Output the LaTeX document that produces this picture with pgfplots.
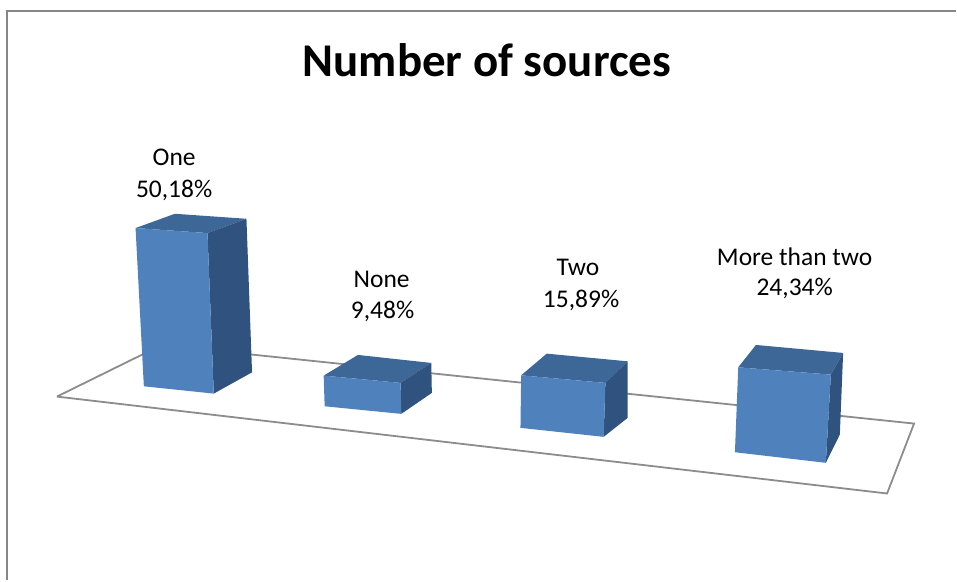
\documentclass[border=0pt]{standalone}
\usepackage{pgfplots}
\pgfplotsset{compat=1.18}
\usepackage{fontspec}
\setmainfont{Carlito}
\definecolor{frontc}{HTML}{4F81BD}
\definecolor{topc}{HTML}{3D6797}
\definecolor{sidec}{HTML}{30527F}
\definecolor{floorc}{HTML}{8C8C8C}
\definecolor{borderc}{HTML}{868686}
\begin{document}
\begin{tikzpicture}
\begin{axis}[
  width=957pt, height=581pt, scale only axis,
  xmin=0, xmax=957, ymin=0, ymax=581, y dir=reverse,
  hide axis, clip=false,
]
% invisible frame to fix the picture's extent
\addplot[draw=none] coordinates {(0,0) (957,581)};
% chart border (left and top visible)
\addplot[borderc, line width=2pt] coordinates {(6.7,581) (6.7,11) (957,11)};
% floor
\addplot[floorc, line width=1.8pt, line join=miter] coordinates {(57,397) (161.5,345.5) (915,424) (888,494) (57,397)};
% Bar 1: One 50,18%
\addplot[fill=topc, draw=none] coordinates {(135.7,228.3) (175,214) (246.7,219) (207.7,233.3) (135.7,228.3)};
\addplot[fill=sidec, draw=none] coordinates {(207.7,233.3) (246.7,219) (252.3,372.7) (214,394) (207.7,233.3)};
\addplot[fill=frontc, draw=none] coordinates {(135.7,228.3) (207.7,233.3) (214,394) (144,386.7) (135.7,228.3)};
% Bar 2: None 9,48%
\addplot[fill=topc, draw=none] coordinates {(324,376) (358.3,355.3) (431.7,363.3) (401,383.3) (324,376)};
\addplot[fill=sidec, draw=none] coordinates {(401,383.3) (431.7,363.3) (432.3,393.3) (401.7,414.3) (401,383.3)};
\addplot[fill=frontc, draw=none] coordinates {(324,376) (401,383.3) (401.7,414.3) (325,406.7) (324,376)};
% Bar 3: Two 15,89%
\addplot[fill=topc, draw=none] coordinates {(521.7,375.7) (547.3,354) (628.3,361.7) (606,383.3) (521.7,375.7)};
\addplot[fill=sidec, draw=none] coordinates {(606,383.3) (628.3,361.7) (628.3,418.3) (604.3,437.3) (606,383.3)};
\addplot[fill=frontc, draw=none] coordinates {(521.7,375.7) (606,383.3) (604.3,437.3) (521,428.3) (521.7,375.7)};
% Bar 4: More than two 24,34%
\addplot[fill=topc, draw=none] coordinates {(739,367.7) (756.7,345.3) (844,353.3) (831.7,375) (739,367.7)};
\addplot[fill=sidec, draw=none] coordinates {(831.7,375) (844,353.3) (840.7,435) (826.7,463.3) (831.7,375)};
\addplot[fill=frontc, draw=none] coordinates {(739,367.7) (831.7,375) (826.7,463.3) (735.7,452.7) (739,367.7)};
% title
\node[anchor=base, inner sep=0pt, font=\bfseries\fontsize{47}{56}\selectfont] at (axis cs:487.5,76.7) {Number of sources};
% data labels
\begin{scope}[every node/.style={anchor=base, inner sep=0pt, font=\fontsize{25.5}{31}\selectfont}]
\node at (axis cs:174.3,166) {One};
\node at (axis cs:174.3,197.3) {50,18\%};
\node at (axis cs:382,287.3) {None};
\node at (axis cs:383,319.3) {9,48\%};
\node at (axis cs:578.5,276) {Two};
\node at (axis cs:581.7,308.3) {15,89\%};
\node at (axis cs:795.5,266) {More than two};
\node at (axis cs:795.5,295.7) {24,34\%};
\end{scope}
\end{axis}
\end{tikzpicture}
\end{document}
